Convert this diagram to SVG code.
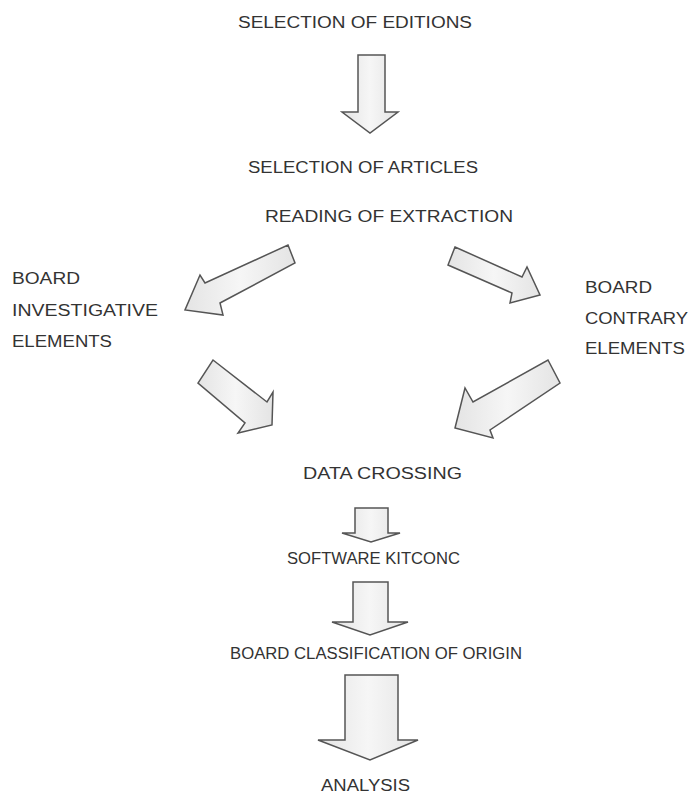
<svg xmlns="http://www.w3.org/2000/svg" width="693" height="796" viewBox="0 0 693 796">
<defs>
<linearGradient id="g" x1="0" y1="0" x2="1" y2="0">
<stop offset="0" stop-color="#e4e4e4"/>
<stop offset="0.5" stop-color="#f6f6f6"/>
<stop offset="1" stop-color="#e4e4e4"/>
</linearGradient>
</defs>
<style>
text{font-family:"Liberation Sans","Open Sans",sans-serif;font-size:16px;fill:#333;}
.c{text-anchor:start;}
.arr{fill:url(#g);stroke:#555;stroke-width:1.5;stroke-linejoin:miter;}
</style>
<rect width="693" height="796" fill="#ffffff"/>
<g id="connectors">
<polygon class="arr" points="358,55 385,55 385,112 398,112 370,133 342,112 358,112"/>
<polygon class="arr" points="288,245 295,263 220,303 223,315 185,310 200,275 205,283"/>
<polygon class="arr" points="455,247 522,277 527,267 540,295 510,303 512,293 448,265"/>
<polygon class="arr" points="213,360 267,402 273,392 272,425 238,433 245,423 198,383"/>
<polygon class="arr" points="548,360 560,383 490,430 493,438 455,428 465,388 473,402"/>
<polygon class="arr" points="355,508 388,508 388,533 400,533 371,542 342,533 355,533"/>
<polygon class="arr" points="353,582 388,582 388,622 408,622 370,635 332,622 353,622"/>
<polygon class="arr" points="345,675 398,675 398,740 418,740 370,760 318,740 345,740"/>
</g>
<g id="n1"><text x="238" y="28" textLength="234" lengthAdjust="spacingAndGlyphs">SELECTION OF EDITIONS</text></g>
<g id="n2"><text x="248" y="173" textLength="230" lengthAdjust="spacingAndGlyphs">SELECTION OF ARTICLES</text></g>
<g id="n3"><text x="265" y="222" textLength="248" lengthAdjust="spacingAndGlyphs">READING OF EXTRACTION</text></g>
<g id="n4">
<text x="12" y="284" textLength="68" lengthAdjust="spacingAndGlyphs">BOARD</text>
<text x="12" y="316" textLength="146" lengthAdjust="spacingAndGlyphs">INVESTIGATIVE</text>
<text x="12" y="347" textLength="100" lengthAdjust="spacingAndGlyphs">ELEMENTS</text>
</g>
<g id="n5">
<text x="585" y="293" textLength="67" lengthAdjust="spacingAndGlyphs">BOARD</text>
<text x="585" y="324" textLength="103" lengthAdjust="spacingAndGlyphs">CONTRARY</text>
<text x="585" y="354" textLength="100" lengthAdjust="spacingAndGlyphs">ELEMENTS</text>
</g>
<g id="n6"><text x="303" y="479" textLength="159" lengthAdjust="spacingAndGlyphs">DATA CROSSING</text></g>
<g id="n7"><text x="287" y="564" textLength="173" lengthAdjust="spacingAndGlyphs">SOFTWARE KITCONC</text></g>
<g id="n8"><text x="230" y="659" textLength="292" lengthAdjust="spacingAndGlyphs">BOARD CLASSIFICATION OF ORIGIN</text></g>
<g id="n9"><text x="321" y="791" textLength="89" lengthAdjust="spacingAndGlyphs">ANALYSIS</text></g>
</svg>
